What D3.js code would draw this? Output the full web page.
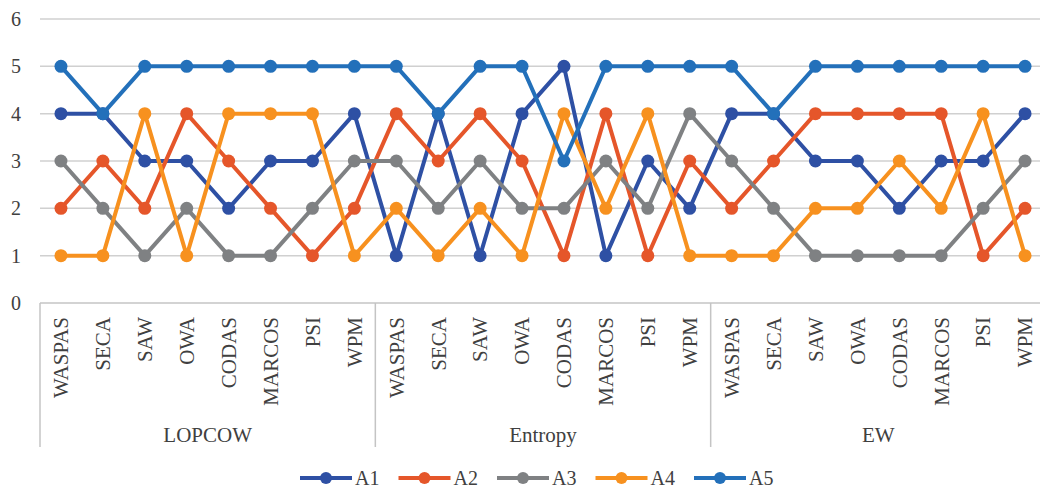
<!DOCTYPE html>
<html>
<head>
<meta charset="utf-8">
<script src="https://cdn.jsdelivr.net/npm/d3@7"></script>
<style>
  html, body { margin: 0; padding: 0; background: #fff; }
  svg { display: block; }
</style>
</head>
<body>
<svg id="chart" width="1040" height="488"></svg>
<script>
const groups = ["LOPCOW", "Entropy", "EW"];
const methods = ["WASPAS", "SECA", "SAW", "OWA", "CODAS", "MARCOS", "PSI", "WPM"];
const seriesNames = ["A1", "A2", "A3", "A4", "A5"];
const seriesColors = ["#2E50A4", "#E5562A", "#7F8183", "#F7911F", "#2370BA"];
const yTicks = [0, 1, 2, 3, 4, 5, 6];

const A1 = [4,4,3,3,2,3,3,4, 1,4,1,4,5,1,3,2, 4,4,3,3,2,3,3,4];
const A2 = [2,3,2,4,3,2,1,2, 4,3,4,3,1,4,1,3, 2,3,4,4,4,4,1,2];
const A3 = [3,2,1,2,1,1,2,3, 3,2,3,2,2,3,2,4, 3,2,1,1,1,1,2,3];
const A4 = [1,1,4,1,4,4,4,1, 2,1,2,1,4,2,4,1, 1,1,2,2,3,2,4,1];
const A5 = [5,4,5,5,5,5,5,5, 5,4,5,5,3,5,5,5, 5,4,5,5,5,5,5,5];
const seriesValues = [A1, A2, A3, A4, A5];

(function () {
const FONT = "'Liberation Serif', 'Times New Roman', Times, serif";
const TXT = "#404040";
const categories = [];
groups.forEach(g => methods.forEach(m => categories.push({ group: g, method: m, key: g + "|" + m })));

const svg = d3.select("#chart");
const pLeft = 40, pRight = 1046, pTop = 19, pBottom = 303;

const x = d3.scaleBand().domain(categories.map(d => d.key)).range([pLeft, pRight]).padding(0);
const y = d3.scaleLinear().domain([0, 6]).range([pBottom, pTop]);
const cx = k => x(k) + x.bandwidth() / 2;

// gridlines
svg.append("g").selectAll("line").data(yTicks.filter(t => t > 0)).join("line")
  .attr("x1", pLeft).attr("x2", pRight)
  .attr("y1", d => y(d)).attr("y2", d => y(d))
  .attr("stroke", "#d0d0d0").attr("stroke-width", 1.5);

// y labels
svg.append("g").selectAll("text").data(yTicks).join("text")
  .attr("x", 16).attr("y", d => y(d)).attr("dy", "0.35em")
  .attr("text-anchor", "middle").attr("font-size", 20)
  .style("font-family", FONT).attr("fill", TXT)
  .text(d => d);

// x axis line
svg.append("line").attr("x1", pLeft).attr("x2", pRight).attr("y1", pBottom).attr("y2", pBottom)
  .attr("stroke", "#c4c4c4").attr("stroke-width", 1.5);

// group separators
const nPer = methods.length;
const sepX = [0, 1, 2, 3].map(i => i < 3 ? x(categories[i * nPer].key) : pRight);
svg.append("g").selectAll("line").data(sepX).join("line")
  .attr("x1", d => d).attr("x2", d => d).attr("y1", pBottom).attr("y2", 447)
  .attr("stroke", "#c4c4c4").attr("stroke-width", 1.5);

// category labels
svg.append("g").selectAll("text").data(categories).join("text")
  .attr("transform", d => `translate(${cx(d.key)},317) rotate(-90)`)
  .attr("dy", "0.35em").attr("text-anchor", "end").attr("font-size", 21)
  .style("font-family", FONT).attr("fill", TXT)
  .text(d => d.method);

// group labels
svg.append("g").selectAll("text").data(groups).join("text")
  .attr("x", (d, i) => (sepX[i] + sepX[i + 1]) / 2).attr("y", 442)
  .attr("text-anchor", "middle").attr("font-size", 21)
  .style("font-family", FONT).attr("fill", TXT)
  .text(d => d);

// series
const line = d3.line().x((d, i) => cx(categories[i].key)).y(d => y(d));
seriesValues.forEach((vals, si) => {
  const g = svg.append("g");
  g.append("path").attr("d", line(vals)).attr("fill", "none")
    .attr("stroke", seriesColors[si]).attr("stroke-width", 4).attr("stroke-linejoin", "round");
  g.selectAll("circle").data(vals).join("circle")
    .attr("cx", (d, i) => cx(categories[i].key)).attr("cy", d => y(d))
    .attr("r", 6.5).attr("fill", seriesColors[si]);
});

// legend
const legX0 = 300, legStep = 98.5, legY = 478;
const leg = svg.append("g").selectAll("g").data(seriesNames).join("g")
  .attr("transform", (d, i) => `translate(${legX0 + i * legStep},${legY})`);
leg.append("line").attr("x1", 0).attr("x2", 52).attr("y1", 0).attr("y2", 0)
  .attr("stroke", (d, i) => seriesColors[i]).attr("stroke-width", 4);
leg.append("circle").attr("cx", 26).attr("cy", 0).attr("r", 6)
  .attr("fill", (d, i) => seriesColors[i]);
leg.append("text").attr("x", 55).attr("y", 0).attr("dy", "0.33em").attr("font-size", 20)
  .style("font-family", FONT).attr("fill", TXT)
  .text(d => d);
})();
</script>
</body>
</html>
